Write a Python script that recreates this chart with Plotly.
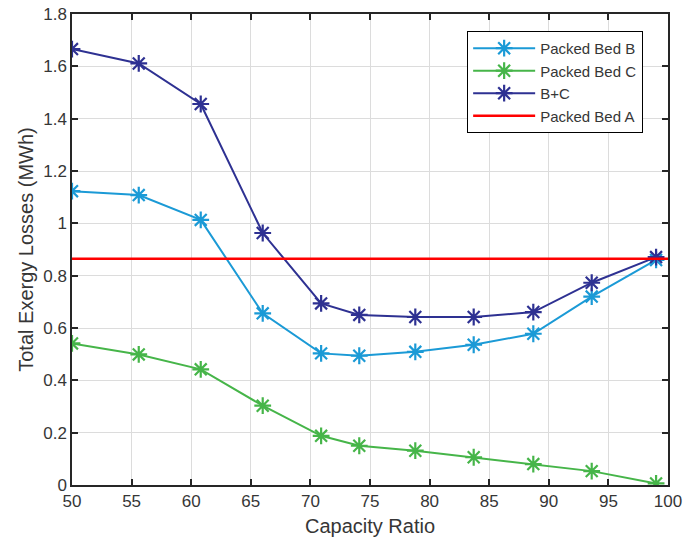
import plotly.graph_objects as go

# Capacity ratio sampled for each configuration
capacity_ratio = [50.0, 55.6, 60.8, 66.0, 70.9, 74.1, 78.8, 83.7, 88.7, 93.6, 99.0]

# Total exergy losses (MWh)
bed_b = [1.123, 1.108, 1.013, 0.656, 0.503, 0.494, 0.509, 0.536, 0.578, 0.720, 0.860]
bed_c = [0.541, 0.499, 0.442, 0.303, 0.188, 0.150, 0.131, 0.106, 0.080, 0.053, 0.006]
bed_bc = [1.666, 1.611, 1.456, 0.963, 0.694, 0.650, 0.642, 0.642, 0.661, 0.773, 0.871]

# Reference level for the single packed bed
bed_a_x = [50, 100]
bed_a_level = 0.865

font_family = "Liberation Sans, Arial, sans-serif"
ink = "#262626"
label_ink = "#363636"

fig = go.Figure()

series = [
    ("Packed Bed B", bed_b, "#1b9ad6"),
    ("Packed Bed C", bed_c, "#46b549"),
    ("B+C", bed_bc, "#2e3192"),
]
for name, values, color in series:
    fig.add_trace(go.Scatter(
        x=capacity_ratio, y=values, name=name, mode="lines+markers",
        line=dict(color=color, width=2),
        marker=dict(symbol="asterisk-open", size=14,
                    line=dict(color=color, width=2.2), color=color),
    ))

fig.add_trace(go.Scatter(
    x=bed_a_x, y=[bed_a_level] * len(bed_a_x), name="Packed Bed A",
    mode="lines", line=dict(color="#ff0000", width=2.5),
))

axis_common = dict(
    showgrid=True, gridcolor="#dcdcdc", gridwidth=1,
    showline=True, linecolor=ink, linewidth=1.5, mirror="ticks",
    ticks="inside", ticklen=6, tickwidth=1.5, tickcolor=ink,
    tickfont=dict(family=font_family, size=17, color=label_ink),
    zeroline=False, automargin=False,
)

fig.update_xaxes(
    range=[50, 100], dtick=5, tick0=50,
    title=dict(text="Capacity Ratio",
               font=dict(family=font_family, size=20, color=label_ink),
               standoff=9),
    **axis_common,
)
fig.update_yaxes(
    range=[0, 1.8], dtick=0.2, tick0=0,
    title=dict(text="Total Exergy Losses (MWh)",
               font=dict(family=font_family, size=20, color=label_ink),
               standoff=4),
    **axis_common,
)

fig.update_layout(
    width=700, height=543,
    margin=dict(l=72, r=32, t=14, b=58),
    paper_bgcolor="white", plot_bgcolor="white",
    showlegend=True,
    legend=dict(
        x=0.663, y=0.964, xanchor="left", yanchor="top",
        bgcolor="white", bordercolor="#000000", borderwidth=1,
        font=dict(family=font_family, size=15, color=label_ink),
        tracegroupgap=0, itemwidth=62,
    ),
)

fig.write_html("out.html")
